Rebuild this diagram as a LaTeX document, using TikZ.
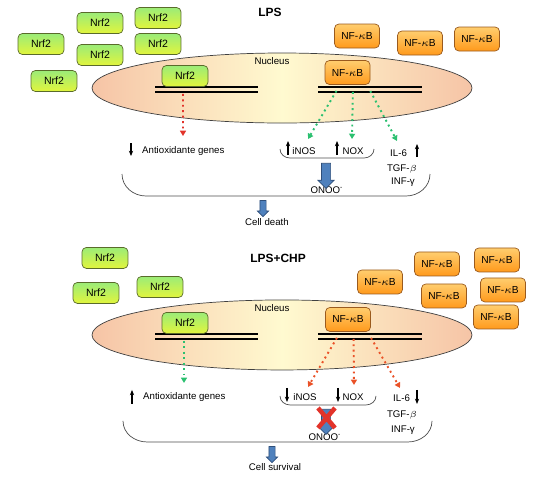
\documentclass[tikz,border=0pt]{standalone}
\usepackage{fontspec}
\setmainfont{Liberation Sans}
\usetikzlibrary{arrows.meta,shapes.arrows}

\definecolor{nrftop}{HTML}{9BEC78}
\definecolor{nrfbot}{HTML}{E2F53C}
\definecolor{nrfedge}{HTML}{5A6B2A}
\definecolor{nfkbtop}{HTML}{FFCD6E}
\definecolor{nfkbbot}{HTML}{FF9A1C}
\definecolor{nfkbedge}{HTML}{9A5A1E}
\definecolor{nucside}{HTML}{F6C4A6}
\definecolor{nucmid}{HTML}{FFFAD0}
\definecolor{flowred}{HTML}{E2332A}
\definecolor{floworange}{HTML}{EA5228}
\definecolor{flowgreen}{HTML}{2CC070}
\definecolor{arrblue}{HTML}{4F81BD}
\definecolor{arredge}{HTML}{2F4F7A}

\tikzset{
  nrfbox/.style={draw=nrfedge, thin, rounded corners=2.5pt, top color=nrftop, bottom color=nrfbot,
    minimum width=0.92cm, minimum height=0.42cm, inner sep=0pt, font=\fontsize{6}{7}\selectfont},
  nfkbbox/.style={draw=nfkbedge, thin, rounded corners=2.5pt, top color=nfkbtop, bottom color=nfkbbot,
    minimum width=0.9cm, minimum height=0.48cm, inner sep=0pt, font=\fontsize{5.8}{7}\selectfont},
  txt/.style={inner sep=0.5pt, font=\fontsize{5.5}{6.5}\selectfont},
  title/.style={inner sep=0.5pt, font=\fontsize{6.8}{8}\selectfont\bfseries},
  nucleus/.style={draw=black!75, thin, left color=nucside, right color=nucside, middle color=nucmid},
  dna/.style={line width=0.9pt},
  bracket/.style={draw=black!70, thin},
  trend/.style={line width=0.6pt, -{Stealth[length=3pt,width=2.4pt]}},
  redflow/.style={flowred, dotted, line width=1.1pt, -{Triangle[length=3pt,width=3.4pt]}},
  orangeflow/.style={floworange, dotted, line width=1.1pt, -{Triangle[length=3pt,width=3.4pt]}},
  greenflow/.style={flowgreen, dotted, line width=1.1pt, -{Triangle[length=3pt,width=3.4pt]}},
  bigarrow/.style={single arrow, rotate=-90, draw=arredge, fill=arrblue, inner sep=0.085cm,
    single arrow head extend=0.07cm, single arrow head indent=0pt, minimum height=0.5cm},
  smallarrow/.style={bigarrow, inner sep=0.055cm, single arrow head extend=0.05cm, minimum height=0.32cm}
}

\begin{document}
\begin{tikzpicture}[x=0.02cm,y=-0.02cm]
   \useasboundingbox (0,0) rectangle (550,484);

   % Top panel: LPS
   \begin{scope}
      \node[title] (lps) at (270,12) {LPS};

      \node[nrfbox] (nrf1) at (100,23) {Nrf2};
      \node[nrfbox] (nrf2) at (158,18) {Nrf2};
      \node[nrfbox] (nrf3) at (41,44) {Nrf2};
      \node[nrfbox] (nrf4) at (100,55) {Nrf2};
      \node[nrfbox] (nrf5) at (158,44) {Nrf2};
      \node[nrfbox] (nrf6) at (54,81) {Nrf2};

      \node[nfkbbox] (nfkb1) at (357,36) {NF-$\kappa$B};
      \node[nfkbbox] (nfkb2) at (420,43) {NF-$\kappa$B};
      \node[nfkbbox] (nfkb3) at (477,39) {NF-$\kappa$B};

      \draw[nucleus] (282,88) ellipse [x radius=190, y radius=35];
      \node[txt] (nuc) at (272,61) {Nucleus};
      \draw[dna] (155,87) -- (258,87) (155,92) -- (258,92);
      \draw[dna] (318,87) -- (422,87) (318,92) -- (422,92);
      \node[nrfbox] (nrfin) at (185,76) {Nrf2};
      \node[nfkbbox] (nfkbin) at (347.5,72.5) {NF-$\kappa$B};

      \node[txt, anchor=west] (antiox) at (141,151) {Antioxidante genes};
      \node[txt] (inos) at (304,151) {iNOS};
      \node[txt] (nox) at (353,151) {NOX};
      \node[txt, anchor=west] (il6) at (389,153) {IL-6};
      \node[txt] (tgf) at (402,169) {TGF-$\beta$};
      \node[txt] (inf) at (403,182) {INF-γ};
      \node[txt] (onoo) at (327,190) {ONOO\textsuperscript{-}};
      \node[txt] (death) at (267,222) {Cell death};

      \draw[trend] (131,143) -- (131,156);
      \draw[trend] (288,155) -- (288,141);
      \draw[trend] (337,155) -- (337,141);
      \draw[trend] (417,157) -- (417,144);

      \coordinate (tip0) at (183,136);
      \coordinate (tip1) at (308,139);
      \coordinate (tip2) at (352,139);
      \coordinate (tip3) at (397,141);
      \draw[redflow, shorten <=4pt] ([xshift=-0.04cm]nrfin.south) -- (tip0);
      \draw[greenflow, shorten <=4pt] ([xshift=-0.15cm]nfkbin.south) -- (tip1);
      \draw[greenflow, shorten <=4pt] ([xshift=0.11cm]nfkbin.south) -- (tip2);
      \draw[greenflow, shorten <=4pt] ([xshift=0.39cm]nfkbin.south) -- (tip3);

      \draw[bracket] (280,149) to[out=-90,in=180] (290,158) -- (364,158) to[out=0,in=-90] (374,149);
      \draw[bracket] (122,174) to[out=-90,in=180] (146,196) -- (406,196) to[out=0,in=-90] (430,174);

      \node[bigarrow] (onooarr) at (326,173.5) {};
      \node[smallarrow] (deatharr) at (263,207) {};
   \end{scope}

   % Bottom panel: LPS+CHP
   \begin{scope}[yshift=-4.94cm]
      \node[title] (lpschp) at (278,11) {LPS+CHP};

      \node[nrfbox] (cnrf1) at (105,11) {Nrf2};
      \node[nrfbox] (cnrf2) at (96,46) {Nrf2};
      \node[nrfbox] (cnrf3) at (160,40) {Nrf2};

      \node[nfkbbox] (cnfkb1) at (380,35) {NF-$\kappa$B};
      \node[nfkbbox] (cnfkb2) at (437,17) {NF-$\kappa$B};
      \node[nfkbbox] (cnfkb3) at (497,13) {NF-$\kappa$B};
      \node[nfkbbox] (cnfkb4) at (444,49) {NF-$\kappa$B};
      \node[nfkbbox] (cnfkb5) at (503,43) {NF-$\kappa$B};
      \node[nfkbbox] (cnfkb6) at (496,70) {NF-$\kappa$B};

      \draw[nucleus] (282,88) ellipse [x radius=190, y radius=35];
      \node[txt] (cnuc) at (272,61) {Nucleus};
      \draw[dna] (155,87) -- (258,87) (155,92) -- (258,92);
      \draw[dna] (318,87) -- (422,87) (318,92) -- (422,92);
      \node[nrfbox] (cnrfin) at (185,76) {Nrf2};
      \node[nfkbbox] (cnfkbin) at (348,72.5) {NF-$\kappa$B};

      \node[txt, anchor=west] (cantiox) at (142,150) {Antioxidante genes};
      \node[txt] (cinos) at (305,150) {iNOS};
      \node[txt] (cnox) at (353,150) {NOX};
      \node[txt, anchor=west] (cil6) at (392,151) {IL-6};
      \node[txt] (ctgf) at (402,168) {TGF-$\beta$};
      \node[txt] (cinf) at (403,183) {INF-γ};
      \node[txt] (conoo) at (325,190) {ONOO\textsuperscript{-}};
      \node[txt] (survival) at (275,220) {Cell survival};

      \draw[trend] (132,157) -- (132,143);
      \draw[trend] (287,141) -- (287,155);
      \draw[trend] (338,141) -- (338,155);
      \draw[trend] (417,143) -- (417,157);

      \coordinate (ctip0) at (184,136);
      \coordinate (ctip1) at (308,140);
      \coordinate (ctip2) at (354,138);
      \coordinate (ctip3) at (400,141);
      \draw[greenflow, shorten <=4pt] ([xshift=-0.02cm]cnrfin.south) -- (ctip0);
      \draw[orangeflow, shorten <=4pt] ([xshift=-0.15cm]cnfkbin.south) -- (ctip1);
      \draw[orangeflow, shorten <=4pt] ([xshift=0.11cm]cnfkbin.south) -- (ctip2);
      \draw[orangeflow, shorten <=4pt] ([xshift=0.39cm]cnfkbin.south) -- (ctip3);

      \draw[bracket] (280,149) to[out=-90,in=180] (290,158) -- (366,158) to[out=0,in=-90] (376,149);
      \draw[bracket] (123,174) to[out=-90,in=180] (147,195) -- (408,195) to[out=0,in=-90] (432,174);

      \node[bigarrow] (conooarr) at (326,172.5) {};
      \draw[flowred, line width=2.6pt] (318,161) -- (335,181) (335,161) -- (318,181);
      \node[smallarrow] (survarr) at (272,206) {};
   \end{scope}
\end{tikzpicture}
\end{document}
